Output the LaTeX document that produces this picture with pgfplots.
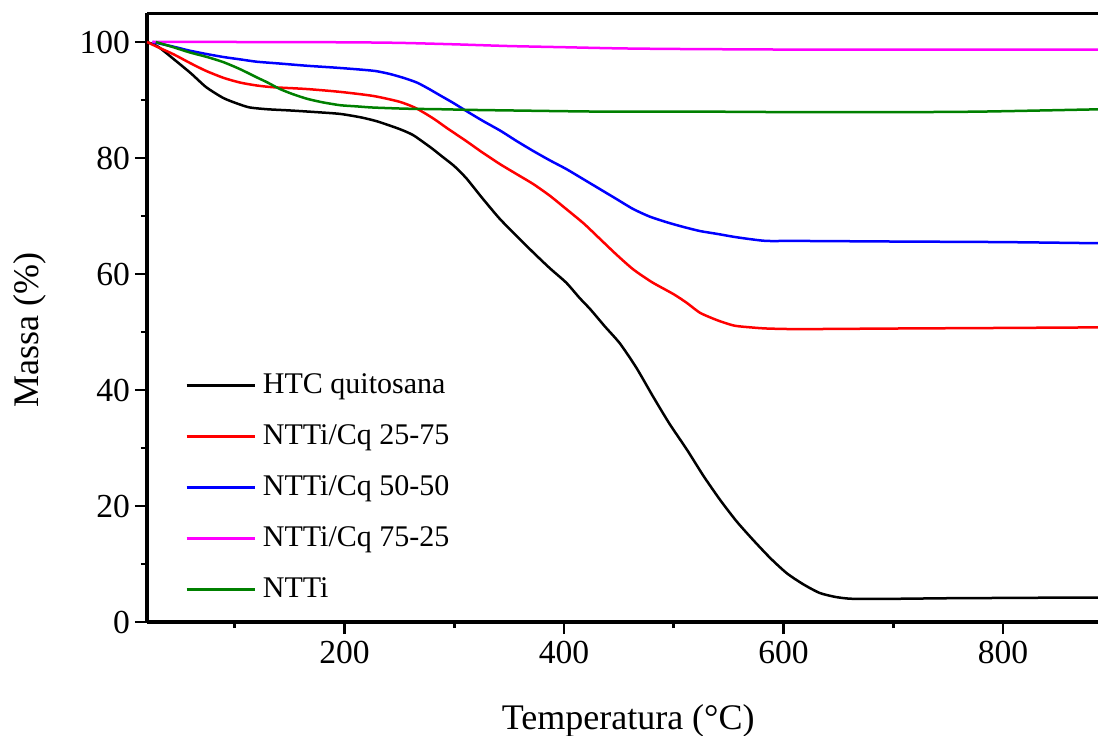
\documentclass[border=0pt]{standalone}
\usepackage{fontspec}
\setmainfont{Liberation Serif}
\usepackage{pgfplots}
\pgfplotsset{compat=1.18}
\definecolor{cblack}{RGB}{0,0,0}
\definecolor{cred}{RGB}{255,0,0}
\definecolor{cblue}{RGB}{0,0,255}
\definecolor{cmag}{RGB}{255,0,255}
\definecolor{cgreen}{RGB}{0,128,0}
\begin{document}
\begin{tikzpicture}
\begin{axis}[
  scale only axis, width=475.5pt, height=304.5pt,
  xmin=20, xmax=886.5, ymin=0, ymax=105,
  axis lines=left, axis line style={-, line width=1.6pt},
  xtick={200,400,600,800}, minor xtick={100,300,500,700},
  ytick={0,20,40,60,80,100}, minor ytick={10,30,50,70,90},
  tick align=outside, major tick length=6pt, minor tick length=3pt,
  every tick/.style={line width=1.4pt, black},
  tick label style={font=\fontsize{16.8}{19}\selectfont},
  yticklabel style={xshift=1pt},
  /pgf/number format/assume math mode=true,
  xlabel={Temperatura (°C)}, ylabel={Massa (\%)},
  xlabel style={font=\fontsize{18}{21}\selectfont, at={(axis description cs:0.506,-0.1757)}, anchor=base},
  ylabel style={font=\fontsize{18}{21}\selectfont, at={(axis description cs:-0.1146,0.479)}, anchor=base},
  legend cell align=left,
  legend style={at={(rel axis cs:0.04,0.412)}, anchor=north west, draw=none, fill=none, inner sep=0pt,
    row sep=11.5pt, column sep=3.5pt, font=\fontsize{15}{18}\selectfont,
    nodes={inner sep=0pt, text height=11pt, text depth=3pt}},
  legend image code/.code={\draw[#1] (0pt,0pt) -- (34pt,0pt);},
  every axis plot/.append style={line width=1.25pt, smooth, tension=0.4},
]
\addplot[cblack] coordinates {(20,100) (30,99.2) (44,97.1) (60,94.6) (74,92.2) (90,90.3) (105,89.2) (114,88.7) (130,88.4) (150,88.2) (175,87.9) (196,87.6) (215,87.0) (230,86.3) (250,85.0) (262,84.0) (272,82.7) (280,81.6) (290,80.1) (300,78.6) (311,76.5) (325,73.2) (341,69.6) (356,66.7) (372,63.7) (387,61.0) (402,58.5) (414,55.9) (424,53.9) (437,51.0) (451,48.0) (466,43.8) (481,38.9) (496,34.2) (512,29.7) (527,25.2) (542,21.1) (557,17.4) (572,14.2) (588,11.0) (603,8.4) (618,6.5) (633,5.0) (648,4.3) (663,4.0) (700,4.0) (750,4.1) (800,4.15) (850,4.2) (888,4.2)};
\addlegendentry{HTC quitosana}
\addplot[cred] coordinates {(20,100) (30,99.1) (44,97.9) (60,96.3) (74,95.0) (90,93.8) (105,93.0) (120,92.5) (135,92.2) (165,91.9) (196,91.4) (226,90.7) (250,89.7) (265,88.6) (281,86.8) (293,85.2) (311,82.9) (326,80.9) (342,78.9) (357,77.2) (372,75.5) (387,73.5) (402,71.2) (418,68.7) (433,66.0) (448,63.3) (463,60.8) (480,58.6) (500,56.5) (512,55.0) (524,53.3) (540,52.0) (555,51.1) (570,50.8) (585,50.6) (615,50.5) (700,50.6) (800,50.7) (888,50.8)};
\addlegendentry{NTTi/Cq 25-75}
\addplot[cblue] coordinates {(25,100) (44,99.2) (59,98.5) (75,97.9) (90,97.4) (105,97.0) (120,96.6) (140,96.3) (166,95.9) (190,95.6) (211,95.3) (228,95.0) (241,94.5) (254,93.8) (266,93.0) (277,91.9) (287,90.8) (299,89.5) (311,88.1) (326,86.4) (342,84.7) (357,82.9) (372,81.2) (387,79.6) (402,78.1) (418,76.3) (433,74.6) (448,72.9) (463,71.2) (478,69.9) (494,68.9) (509,68.1) (524,67.4) (540,66.9) (555,66.4) (570,66.0) (585,65.7) (615,65.7) (700,65.6) (800,65.5) (888,65.3)};
\addlegendentry{NTTi/Cq 50-50}
\addplot[cmag] coordinates {(25,100) (100,100) (200,99.95) (250,99.85) (300,99.6) (350,99.3) (400,99.1) (450,98.9) (500,98.8) (600,98.7) (700,98.7) (888,98.7)};
\addlegendentry{NTTi/Cq 75-25}
\addplot[cgreen] coordinates {(28,100) (44,99.1) (59,98.2) (75,97.4) (90,96.5) (105,95.3) (120,93.9) (130,93.0) (141,91.9) (153,91.0) (166,90.2) (180,89.6) (196,89.1) (211,88.9) (226,88.7) (256,88.5) (290,88.4) (313,88.3) (350,88.2) (433,88.0) (520,88.0) (615,87.9) (700,87.9) (780,88.0) (888,88.4)};
\addlegendentry{NTTi}
\draw[line width=1.6pt] (rel axis cs:0,1) -- (rel axis cs:1,1);
\coordinate (SW) at (rel axis cs:0,0);
\coordinate (NE) at (rel axis cs:1,1);
\end{axis}
\pgfresetboundingbox
\useasboundingbox ([xshift=-73.5pt,yshift=-56.5pt]SW) rectangle ([yshift=6.5pt]NE);
\end{tikzpicture}
\end{document}
